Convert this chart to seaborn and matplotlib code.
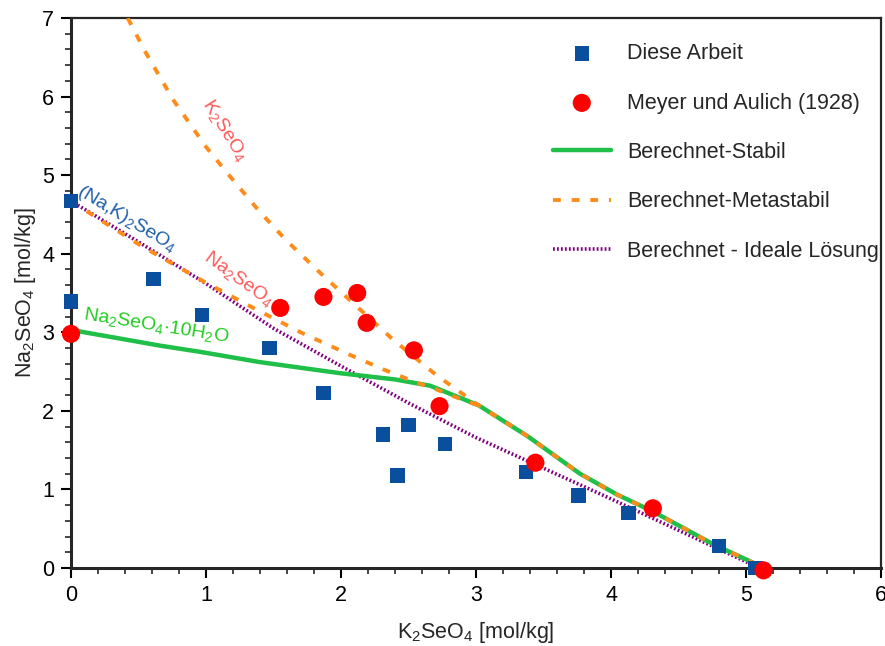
import numpy as np
import pandas as pd
import matplotlib
matplotlib.use("Agg")
import matplotlib.pyplot as plt
import seaborn as sns
from matplotlib.ticker import MultipleLocator

# ---- data ----
diese_x = [0.0, 0.0, 0.61, 0.97, 1.47, 1.87, 2.31, 2.42, 2.50, 2.77, 3.37, 3.76, 4.13, 4.80, 5.07]
diese_y = [4.67, 3.39, 3.68, 3.22, 2.80, 2.23, 1.70, 1.18, 1.82, 1.58, 1.22, 0.92, 0.70, 0.28, 0.0]

meyer_x = [0.0, 1.55, 1.87, 2.12, 2.19, 2.54, 2.73, 3.44, 4.31, 5.13]
meyer_y = [2.98, 3.31, 3.45, 3.50, 3.12, 2.77, 2.06, 1.34, 0.76, -0.03]

stabil_x = [0.0, 0.66, 0.96, 1.40, 1.99, 2.40, 2.66, 3.02, 3.38, 3.77, 4.05, 4.31, 4.76, 5.10]
stabil_y = [3.03, 2.83, 2.75, 2.62, 2.48, 2.40, 2.32, 2.07, 1.68, 1.20, 0.93, 0.72, 0.30, 0.03]

meta_na_x = [0.0, 0.18, 0.53, 0.99, 1.35, 1.70, 2.07, 2.31, 2.56, 2.71, 2.93, 3.02]
meta_na_y = [4.67, 4.47, 4.09, 3.64, 3.31, 3.00, 2.71, 2.53, 2.36, 2.27, 2.12, 2.07]

meta_k_x = [0.42, 0.55, 0.76, 1.00, 1.16, 1.40, 1.60, 1.85, 2.09, 2.39, 2.71, 2.93, 3.02,
            3.38, 3.77, 4.05, 4.31, 4.76, 5.10]
meta_k_y = [7.00, 6.57, 5.95, 5.36, 5.02, 4.53, 4.16, 3.75, 3.37, 2.90, 2.45, 2.18, 2.07,
            1.68, 1.20, 0.93, 0.72, 0.30, 0.03]

ideal_x = [0.0, 0.5, 1.0, 1.5, 2.0, 2.5, 3.0, 3.5, 4.0, 4.5, 5.0, 5.1]
ideal_y = [4.67, 4.15, 3.62, 3.05, 2.57, 2.10, 1.66, 1.27, 0.88, 0.48, 0.08, 0.0]

x_ticks = [0, 1, 2, 3, 4, 5, 6]
y_ticks = [0, 1, 2, 3, 4, 5, 6, 7]

# ---- style ----
sns.set_style("ticks")
plt.rcParams["font.family"] = ["Liberation Sans", "DejaVu Sans"]
plt.rcParams["mathtext.default"] = "regular"

BLUE = "#0a4f9e"
RED = "#ff0000"
GREEN = "#1fbf4a"
ORANGE = "#ff8c1a"
PURPLE = "#800080"

fig = plt.figure(figsize=(8.85, 6.46), dpi=100)
ax = fig.add_axes([71 / 885, (646 - 568) / 646, 810 / 885, 550 / 646])

sns.lineplot(x=ideal_x, y=ideal_y, ax=ax, sort=False, estimator=None, color=PURPLE,
             lw=2.6, linestyle=(0, (0.5, 0.6)), label="Berechnet - Ideale Lösung", zorder=2)
sns.lineplot(x=stabil_x, y=stabil_y, ax=ax, sort=False, estimator=None, color=GREEN,
             lw=3.2, label="Berechnet-Stabil", zorder=3)
sns.lineplot(x=meta_na_x, y=meta_na_y, ax=ax, sort=False, estimator=None, color=ORANGE,
             lw=2.8, linestyle=(0, (2.0, 2.8)), label="Berechnet-Metastabil", zorder=4)
sns.lineplot(x=meta_k_x, y=meta_k_y, ax=ax, sort=False, estimator=None, color=ORANGE,
             lw=2.8, linestyle=(0, (2.0, 2.8)), zorder=4)
sns.scatterplot(x=diese_x, y=diese_y, ax=ax, marker="s", s=110, color=BLUE,
                edgecolor="none", label="Diese Arbeit", zorder=5, clip_on=False)
sns.scatterplot(x=meyer_x, y=meyer_y, ax=ax, marker="o", s=170, color=RED,
                edgecolor="none", label="Meyer und Aulich (1928)", zorder=6, clip_on=False)

ax.set_xlim(0, 6)
ax.set_ylim(0, 7)
ax.set_xticks(x_ticks)
ax.set_yticks(y_ticks)
ax.xaxis.set_minor_locator(MultipleLocator(0.2))
ax.yaxis.set_minor_locator(MultipleLocator(0.2))
ax.tick_params(which="major", direction="out", length=7, width=1.5, labelsize=15.5,
               colors="black", pad=5)
ax.tick_params(which="minor", direction="out", length=4, width=1.2)
for side in ["left", "bottom"]:
    ax.spines[side].set_linewidth(2.2)
for side in ["top", "right"]:
    ax.spines[side].set_visible(True)
    ax.spines[side].set_linewidth(1.6)

ax.set_xlabel("K$_2$SeO$_4$ [mol/kg]", fontsize=15.5, labelpad=10)
ax.set_ylabel("Na$_2$SeO$_4$ [mol/kg]", fontsize=15.5, labelpad=3)

# phase labels
ax.text(1.14, 5.57, "K$_2$SeO$_4$", color="#ff5a5a", fontsize=14, rotation=-58,
        ha="center", va="center", rotation_mode="anchor")
ax.text(0.41, 4.44, "(Na,K)$_2$SeO$_4$", color="#1f5fa8", fontsize=14, rotation=-31,
        ha="center", va="center", rotation_mode="anchor")
ax.text(1.24, 3.68, "Na$_2$SeO$_4$", color="#ff5a5a", fontsize=14, rotation=-36,
        ha="center", va="center", rotation_mode="anchor")
ax.text(0.63, 3.08, "Na$_2$SeO$_4$·10H$_2$O", color="#22cc22", fontsize=14, rotation=-9,
        ha="center", va="center", rotation_mode="anchor")

handles, labels = ax.get_legend_handles_labels()
order = ["Diese Arbeit", "Meyer und Aulich (1928)", "Berechnet-Stabil",
         "Berechnet-Metastabil", "Berechnet - Ideale Lösung"]
hmap = dict(zip(labels, handles))
leg = ax.legend([hmap[k] for k in order], order, loc="upper right", frameon=False,
                fontsize=15.5, handlelength=2.7, handletextpad=0.75, labelspacing=1.32,
                borderaxespad=0.0, bbox_to_anchor=(1.008, 0.97))

fig.savefig("out.png", dpi=100)
